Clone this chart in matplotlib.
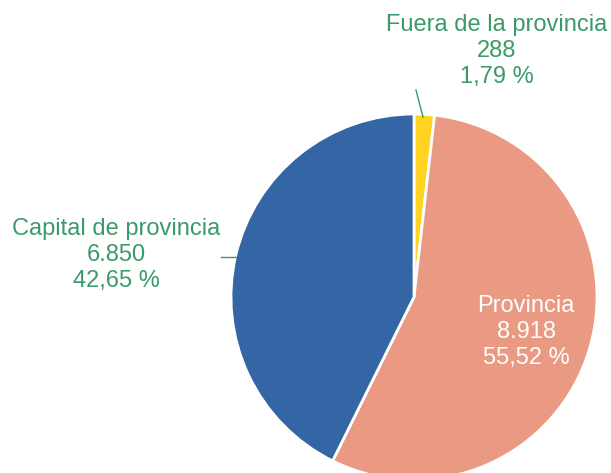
import matplotlib.pyplot as plt

labels = ["Fuera de la provincia", "Provincia", "Capital de provincia"]
values = [288, 8918, 6850]
pct_labels = ["1,79 %", "55,52 %", "42,65 %"]
num_labels = ["288", "8.918", "6.850"]
colors = ["#FFD320", "#EA9A83", "#3465A4"]
green = "#3A9A68"

plt.rcParams['font.family'] = ['Liberation Sans', 'DejaVu Sans']

fig = plt.figure(figsize=(6.11, 4.73), dpi=100)
ax = fig.add_axes([0, 0, 1, 1])

ax.pie(values, colors=colors, startangle=90, counterclock=False,
       center=(414, 176), radius=183,
       wedgeprops=dict(edgecolor='white', linewidth=2))

# pie resets the limits, so set them afterwards
ax.set_xlim(0, 611)
ax.set_ylim(0, 473)
ax.set_aspect('equal')
ax.axis('off')

texts = [f"{l}\n{n}\n{p}" for l, n, p in zip(labels, num_labels, pct_labels)]
ax.text(497, 422, texts[0], color=green, fontsize=17, ha='center', va='center', linespacing=1.22)
ax.text(526, 141, texts[1], color='white', fontsize=17, ha='center', va='center', linespacing=1.22)
ax.text(116, 218, texts[2], color=green, fontsize=17, ha='center', va='center', linespacing=1.22)

# leader lines
ax.plot([416, 423], [383, 356], color=green, lw=1)
ax.plot([221, 236], [216, 216], color=green, lw=1)

fig.savefig("out.png")
